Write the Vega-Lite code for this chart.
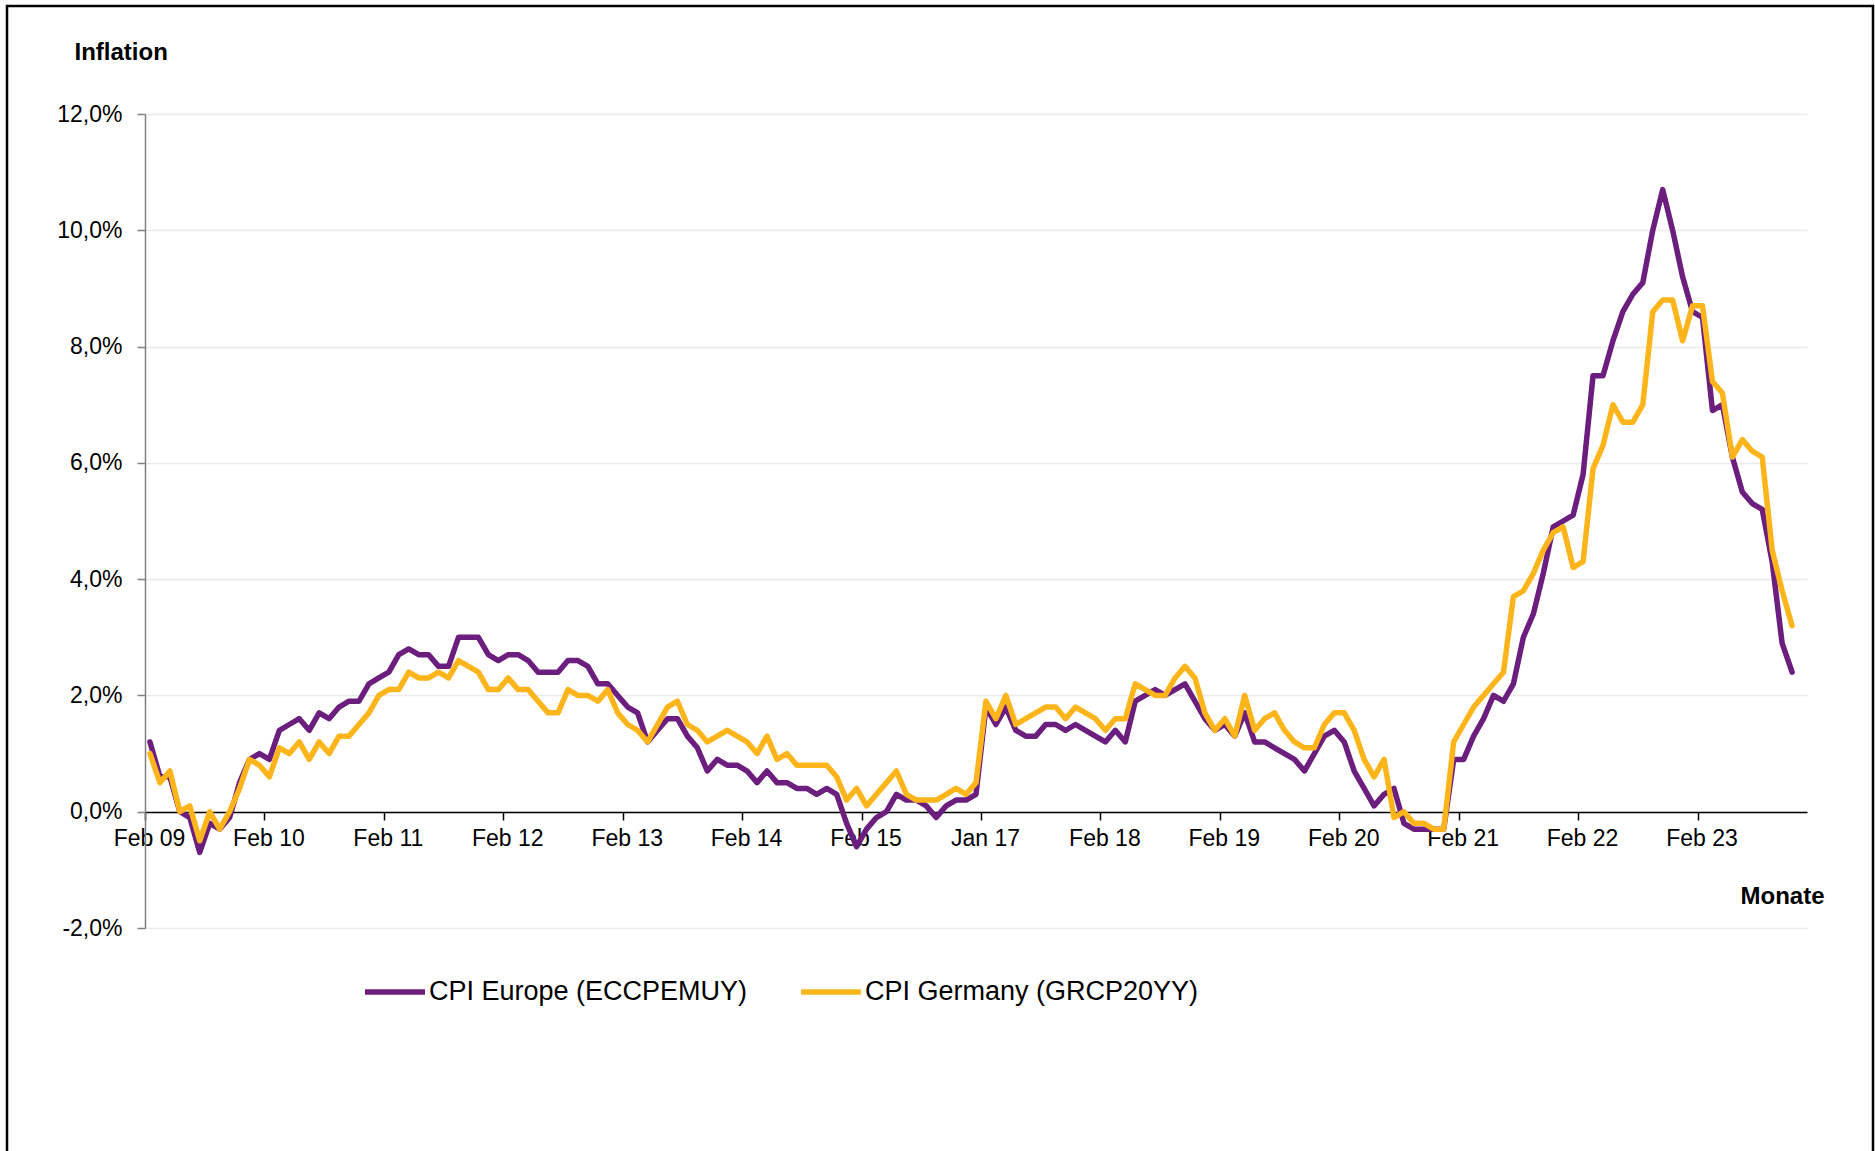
{
  "$schema": "https://vega.github.io/schema/vega-lite/v6.json",
  "width": 1866,
  "height": 1149,
  "autosize": {"type": "none"},
  "padding": {"left": 7, "top": 6, "right": 2, "bottom": -4},
  "background": "#ffffff",
  "config": {
    "view": {"stroke": "#000000", "strokeWidth": 2.5},
    "font": "Liberation Sans"
  },
  "data": {
    "values": [
      {"m":"Feb 09","eu":1.2,"de":1.0},{"m":"Mär 09","eu":0.6,"de":0.5},{"m":"Apr 09","eu":0.6,"de":0.7},{"m":"Mai 09","eu":0.0,"de":0.0},{"m":"Jun 09","eu":-0.1,"de":0.1},{"m":"Jul 09","eu":-0.7,"de":-0.5},{"m":"Aug 09","eu":-0.2,"de":0.0},{"m":"Sep 09","eu":-0.3,"de":-0.3},{"m":"Okt 09","eu":-0.1,"de":0.0},{"m":"Nov 09","eu":0.5,"de":0.4},{"m":"Dez 09","eu":0.9,"de":0.9},
      {"m":"Jan 10","eu":1.0,"de":0.8},{"m":"Feb 10","eu":0.9,"de":0.6},{"m":"Mär 10","eu":1.4,"de":1.1},{"m":"Apr 10","eu":1.5,"de":1.0},{"m":"Mai 10","eu":1.6,"de":1.2},{"m":"Jun 10","eu":1.4,"de":0.9},{"m":"Jul 10","eu":1.7,"de":1.2},{"m":"Aug 10","eu":1.6,"de":1.0},{"m":"Sep 10","eu":1.8,"de":1.3},{"m":"Okt 10","eu":1.9,"de":1.3},{"m":"Nov 10","eu":1.9,"de":1.5},{"m":"Dez 10","eu":2.2,"de":1.7},
      {"m":"Jan 11","eu":2.3,"de":2.0},{"m":"Feb 11","eu":2.4,"de":2.1},{"m":"Mär 11","eu":2.7,"de":2.1},{"m":"Apr 11","eu":2.8,"de":2.4},{"m":"Mai 11","eu":2.7,"de":2.3},{"m":"Jun 11","eu":2.7,"de":2.3},{"m":"Jul 11","eu":2.5,"de":2.4},{"m":"Aug 11","eu":2.5,"de":2.3},{"m":"Sep 11","eu":3.0,"de":2.6},{"m":"Okt 11","eu":3.0,"de":2.5},{"m":"Nov 11","eu":3.0,"de":2.4},{"m":"Dez 11","eu":2.7,"de":2.1},
      {"m":"Jan 12","eu":2.6,"de":2.1},{"m":"Feb 12","eu":2.7,"de":2.3},{"m":"Mär 12","eu":2.7,"de":2.1},{"m":"Apr 12","eu":2.6,"de":2.1},{"m":"Mai 12","eu":2.4,"de":1.9},{"m":"Jun 12","eu":2.4,"de":1.7},{"m":"Jul 12","eu":2.4,"de":1.7},{"m":"Aug 12","eu":2.6,"de":2.1},{"m":"Sep 12","eu":2.6,"de":2.0},{"m":"Okt 12","eu":2.5,"de":2.0},{"m":"Nov 12","eu":2.2,"de":1.9},{"m":"Dez 12","eu":2.2,"de":2.1},
      {"m":"Jan 13","eu":2.0,"de":1.7},{"m":"Feb 13","eu":1.8,"de":1.5},{"m":"Mär 13","eu":1.7,"de":1.4},{"m":"Apr 13","eu":1.2,"de":1.2},{"m":"Mai 13","eu":1.4,"de":1.5},{"m":"Jun 13","eu":1.6,"de":1.8},{"m":"Jul 13","eu":1.6,"de":1.9},{"m":"Aug 13","eu":1.3,"de":1.5},{"m":"Sep 13","eu":1.1,"de":1.4},{"m":"Okt 13","eu":0.7,"de":1.2},{"m":"Nov 13","eu":0.9,"de":1.3},{"m":"Dez 13","eu":0.8,"de":1.4},
      {"m":"Jan 14","eu":0.8,"de":1.3},{"m":"Feb 14","eu":0.7,"de":1.2},{"m":"Mär 14","eu":0.5,"de":1.0},{"m":"Apr 14","eu":0.7,"de":1.3},{"m":"Mai 14","eu":0.5,"de":0.9},{"m":"Jun 14","eu":0.5,"de":1.0},{"m":"Jul 14","eu":0.4,"de":0.8},{"m":"Aug 14","eu":0.4,"de":0.8},{"m":"Sep 14","eu":0.3,"de":0.8},{"m":"Okt 14","eu":0.4,"de":0.8},{"m":"Nov 14","eu":0.3,"de":0.6},{"m":"Dez 14","eu":-0.2,"de":0.2},
      {"m":"Jan 15","eu":-0.6,"de":0.4},{"m":"Feb 15","eu":-0.3,"de":0.1},{"m":"Mär 15","eu":-0.1,"de":0.3},{"m":"Apr 15","eu":0.0,"de":0.5},{"m":"Mai 15","eu":0.3,"de":0.7},{"m":"Jun 15","eu":0.2,"de":0.3},{"m":"Jul 15","eu":0.2,"de":0.2},{"m":"Aug 15","eu":0.1,"de":0.2},{"m":"Sep 15","eu":-0.1,"de":0.2},{"m":"Okt 15","eu":0.1,"de":0.3},{"m":"Nov 15","eu":0.2,"de":0.4},{"m":"Dez 15","eu":0.2,"de":0.3},
      {"m":"Jan 16","eu":0.3,"de":0.5},
      {"m":"Jan 17","eu":1.8,"de":1.9},{"m":"Mär 17","eu":1.5,"de":1.6},{"m":"Apr 17","eu":1.8,"de":2.0},{"m":"Mai 17","eu":1.4,"de":1.5},{"m":"Jun 17","eu":1.3,"de":1.6},{"m":"Jul 17","eu":1.3,"de":1.7},{"m":"Aug 17","eu":1.5,"de":1.8},{"m":"Sep 17","eu":1.5,"de":1.8},{"m":"Okt 17","eu":1.4,"de":1.6},{"m":"Nov 17","eu":1.5,"de":1.8},{"m":"Dez 17","eu":1.4,"de":1.7},
      {"m":"Jan 18","eu":1.3,"de":1.6},{"m":"Feb 18","eu":1.2,"de":1.4},{"m":"Mär 18","eu":1.4,"de":1.6},{"m":"Apr 18","eu":1.2,"de":1.6},{"m":"Mai 18","eu":1.9,"de":2.2},{"m":"Jun 18","eu":2.0,"de":2.1},{"m":"Jul 18","eu":2.1,"de":2.0},{"m":"Aug 18","eu":2.0,"de":2.0},{"m":"Sep 18","eu":2.1,"de":2.3},{"m":"Okt 18","eu":2.2,"de":2.5},{"m":"Nov 18","eu":1.9,"de":2.3},{"m":"Dez 18","eu":1.6,"de":1.7},
      {"m":"Jan 19","eu":1.4,"de":1.4},{"m":"Feb 19","eu":1.5,"de":1.6},{"m":"Mär 19","eu":1.3,"de":1.3},{"m":"Apr 19","eu":1.7,"de":2.0},{"m":"Mai 19","eu":1.2,"de":1.4},{"m":"Jun 19","eu":1.2,"de":1.6},{"m":"Jul 19","eu":1.1,"de":1.7},{"m":"Aug 19","eu":1.0,"de":1.4},{"m":"Sep 19","eu":0.9,"de":1.2},{"m":"Okt 19","eu":0.7,"de":1.1},{"m":"Nov 19","eu":1.0,"de":1.1},{"m":"Dez 19","eu":1.3,"de":1.5},
      {"m":"Jan 20","eu":1.4,"de":1.7},{"m":"Feb 20","eu":1.2,"de":1.7},{"m":"Mär 20","eu":0.7,"de":1.4},{"m":"Apr 20","eu":0.4,"de":0.9},{"m":"Mai 20","eu":0.1,"de":0.6},{"m":"Jun 20","eu":0.3,"de":0.9},{"m":"Jul 20","eu":0.4,"de":-0.1},{"m":"Aug 20","eu":-0.2,"de":0.0},{"m":"Sep 20","eu":-0.3,"de":-0.2},{"m":"Okt 20","eu":-0.3,"de":-0.2},{"m":"Nov 20","eu":-0.3,"de":-0.3},{"m":"Dez 20","eu":-0.3,"de":-0.3},
      {"m":"Jan 21","eu":0.9,"de":1.2},{"m":"Feb 21","eu":0.9,"de":1.5},{"m":"Mär 21","eu":1.3,"de":1.8},{"m":"Apr 21","eu":1.6,"de":2.0},{"m":"Mai 21","eu":2.0,"de":2.2},{"m":"Jun 21","eu":1.9,"de":2.4},{"m":"Jul 21","eu":2.2,"de":3.7},{"m":"Aug 21","eu":3.0,"de":3.8},{"m":"Sep 21","eu":3.4,"de":4.1},{"m":"Okt 21","eu":4.1,"de":4.5},{"m":"Nov 21","eu":4.9,"de":4.8},{"m":"Dez 21","eu":5.0,"de":4.9},
      {"m":"Jan 22","eu":5.1,"de":4.2},{"m":"Feb 22","eu":5.8,"de":4.3},{"m":"Mär 22","eu":7.5,"de":5.9},{"m":"Apr 22","eu":7.5,"de":6.3},{"m":"Mai 22","eu":8.1,"de":7.0},{"m":"Jun 22","eu":8.6,"de":6.7},{"m":"Jul 22","eu":8.9,"de":6.7},{"m":"Aug 22","eu":9.1,"de":7.0},{"m":"Sep 22","eu":10.0,"de":8.6},{"m":"Okt 22","eu":10.7,"de":8.8},{"m":"Nov 22","eu":10.0,"de":8.8},{"m":"Dez 22","eu":9.2,"de":8.1},
      {"m":"Jan 23","eu":8.6,"de":8.7},{"m":"Feb 23","eu":8.5,"de":8.7},{"m":"Mär 23","eu":6.9,"de":7.4},{"m":"Apr 23","eu":7.0,"de":7.2},{"m":"Mai 23","eu":6.1,"de":6.1},{"m":"Jun 23","eu":5.5,"de":6.4},{"m":"Jul 23","eu":5.3,"de":6.2},{"m":"Aug 23","eu":5.2,"de":6.1},{"m":"Sep 23","eu":4.3,"de":4.5},{"m":"Okt 23","eu":2.9,"de":3.8},{"m":"Nov 23","eu":2.4,"de":3.2}
    ]
  },
  "encoding": {
    "x": {
      "field": "m",
      "type": "ordinal",
      "sort": null,
      "scale": {"type": "point", "range": [138, 1800], "padding": 1, "align": 0.25},
      "axis": {
        "values": ["Feb 09","Feb 10","Feb 11","Feb 12","Feb 13","Feb 14","Feb 15","Jan 17","Feb 18","Feb 19","Feb 20","Feb 21","Feb 22","Feb 23"],
        "title": "Monate",
        "titleFontSize": 24,
        "titleFontWeight": "bold",
        "titleColor": "#000000",
        "titleAngle": 0,
        "titleAlign": "right",
        "titleBaseline": "alphabetic",
        "titleX": 1817,
        "titleY": 91,
        "offset": -343,
        "domainColor": "#000000",
        "domainWidth": 1.5,
        "tickColor": "#000000",
        "tickSize": 8,
        "tickWidth": 1.5,
        "tickOffset": -5,
        "labelFontSize": 23,
        "labelColor": "#000000",
        "labelPadding": 7,
        "labelOffset": 4,
        "labelAngle": 0,
        "labelOverlap": false,
        "labelFlush": false,
        "grid": false
      }
    }
  },
  "layer": [
    {
      "mark": {"type": "line", "strokeWidth": 5.5, "strokeJoin": "round", "strokeCap": "round"},
      "encoding": {
        "y": {
          "field": "eu",
          "type": "quantitative",
          "scale": {"domain": [-2, 12], "range": [922, 108], "nice": false, "zero": false},
          "axis": {
            "values": [-2, 0, 2, 4, 6, 8, 10, 12],
            "title": "Inflation",
            "titleFontSize": 24,
            "titleFontWeight": "bold",
            "titleColor": "#000000",
            "titleAngle": 0,
            "titleAlign": "left",
            "titleBaseline": "alphabetic",
            "titleX": -71,
            "titleY": 53,
            "offset": -138,
            "domainColor": "#808080",
            "domainWidth": 1.5,
            "tickColor": "#808080",
            "tickSize": 8,
            "tickWidth": 1.5,
            "labelFontSize": 23,
            "labelColor": "#000000",
            "labelPadding": 15,
            "labelExpr": "replace(replace(format(datum.value, '.1f'), '.', ','), '\u2212', '-') + '%'",
            "grid": true,
            "gridColor": "#ebebeb",
            "gridWidth": 1.5
          }
        },
        "color": {
          "datum": "CPI Europe (ECCPEMUY)",
          "type": "nominal",
          "scale": {"domain": ["CPI Europe (ECCPEMUY)", "CPI Germany (GRCP20YY)"], "range": ["#6B1E7E", "#FDB51B"]},
          "legend": {
            "title": null,
            "orient": "none",
            "legendX": 355,
            "legendY": 953,
            "direction": "horizontal",
            "symbolType": "stroke",
            "symbolSize": 3600,
            "symbolStrokeWidth": 5.5,
            "labelFontSize": 27,
            "labelColor": "#000000",
            "labelOffset": 1,
            "labelLimit": 0,
            "columnPadding": 42,
            "padding": 0
          }
        }
      }
    },
    {
      "mark": {"type": "line", "strokeWidth": 5.5, "strokeJoin": "round", "strokeCap": "round"},
      "encoding": {
        "y": {"field": "de", "type": "quantitative", "title": "Inflation"},
        "color": {"datum": "CPI Germany (GRCP20YY)", "type": "nominal"}
      }
    }
  ]
}
